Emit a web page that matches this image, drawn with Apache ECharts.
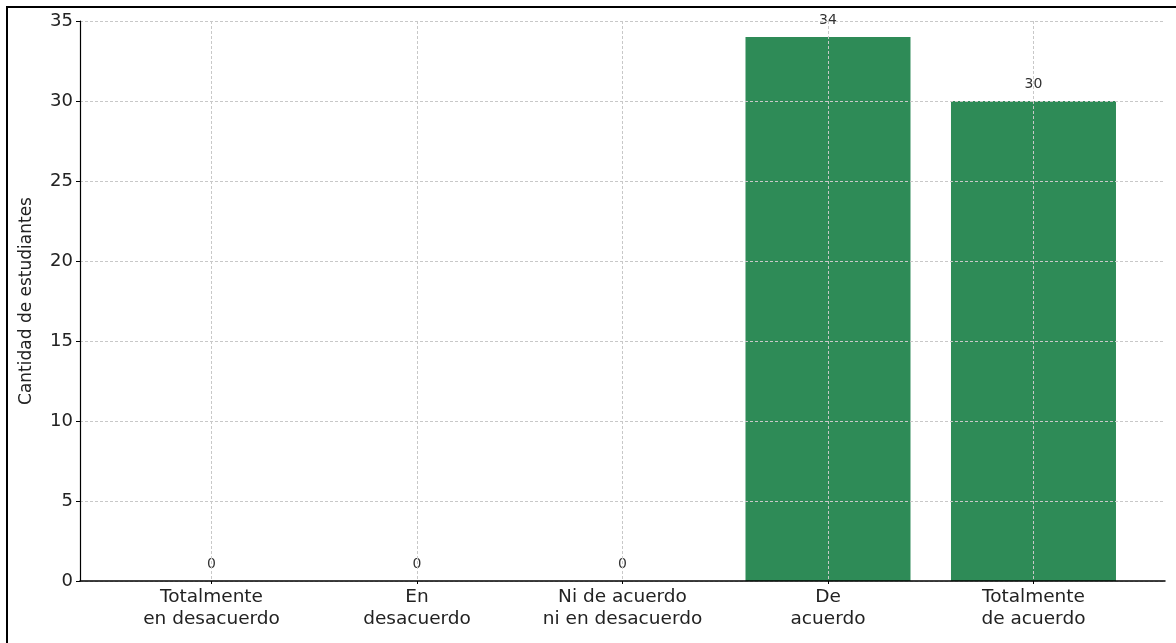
<!DOCTYPE html>
<html>
<head>
<meta charset="utf-8">
<script src="https://cdn.jsdelivr.net/npm/echarts@6/dist/echarts.min.js"></script>
<style>
html,body{margin:0;padding:0;background:#fff;}
#chart{width:1176px;height:643px;}
</style>
</head>
<body>
<div id="chart"></div>
<script>
const categories = ['Totalmente\nen desacuerdo', 'En\ndesacuerdo', 'Ni de acuerdo\nni en desacuerdo', 'De\nacuerdo', 'Totalmente\nde acuerdo'];
const values = [0, 0, 0, 34, 30];
const yTicks = [0, 5, 10, 15, 20, 25, 30, 35];
const yName = 'Cantidad de estudiantes';

const positions = categories.map((c, i) => i);
const chart = echarts.init(document.getElementById('chart'));
const font = 'DejaVu Sans';
chart.setOption({
  animation: false,
  textStyle: { fontFamily: font },
  grid: { left: 80, right: 11, top: 21, bottom: 62, containLabel: false },
  xAxis: {
    type: 'value',
    min: -0.64,
    max: categories.length - 1 + 0.64,
    axisLine: { show: true, onZero: false, lineStyle: { color: '#000', width: 1.5 } },
    axisTick: { show: true, customValues: positions, length: 3, lineStyle: { color: '#000' } },
    axisLabel: {
      customValues: positions,
      formatter: v => categories[Math.round(v)] || '',
      fontSize: 18.5, color: '#222', lineHeight: 22, margin: 5, fontFamily: font
    },
    splitLine: { show: true, lineStyle: { color: '#c8c8c8', type: [3, 2], width: 1 } }
  },
  yAxis: {
    type: 'value',
    min: 0, max: 35, interval: 5,
    name: yName,
    nameLocation: 'middle',
    nameGap: 45,
    nameTextStyle: { fontSize: 17, color: '#222', fontFamily: font },
    axisLine: { show: true, onZero: false, lineStyle: { color: '#000', width: 1.2 } },
    axisTick: { show: true, length: 4, lineStyle: { color: '#000' } },
    axisLabel: { fontSize: 18, color: '#222', margin: 7, fontFamily: font,
      formatter: v => yTicks.includes(v) ? String(v) : '' },
    splitLine: { show: true, lineStyle: { color: '#c8c8c8', type: [3, 2], width: 1 } }
  },
  series: [{
    type: 'bar',
    z: -1,
    barWidth: 165,
    data: values.map((v, i) => [positions[i], v]),
    itemStyle: { color: '#2e8b57' },
    label: { show: true, position: 'top', distance: 10, fontSize: 14, color: '#333', fontFamily: font,
      formatter: p => String(p.value[1]) }
  }],
  graphic: [
    { type: 'line', shape: { x1: 6, y1: 7, x2: 1176, y2: 7 }, style: { stroke: '#000', lineWidth: 2 } },
    { type: 'line', shape: { x1: 7, y1: 6, x2: 7, y2: 643 }, style: { stroke: '#000', lineWidth: 2 } }
  ]
});
</script>
</body>
</html>
